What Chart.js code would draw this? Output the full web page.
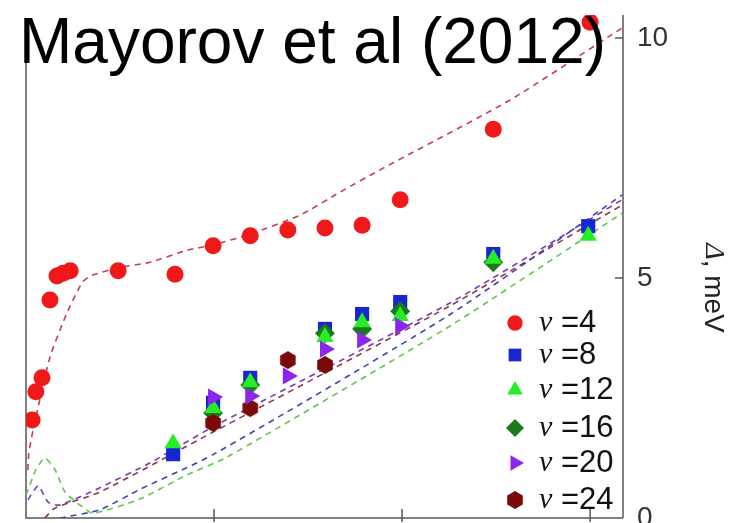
<!DOCTYPE html>
<html>
<head>
<meta charset="utf-8">
<script src="https://cdn.jsdelivr.net/npm/chart.js@4/dist/chart.umd.min.js"></script>
<style>
  html,body{margin:0;padding:0;background:#fff;}
  #wrap{width:738px;height:523px;}
</style>
</head>
<body>
<div id="wrap"><canvas id="chart" width="738" height="523"></canvas></div>
<script>
// measured points, B (T) vs gap (meV)
const NU4_B  = [0.13,0.21,0.34,0.51,0.66,0.79,0.94,1.96,3.17,3.98,4.77,5.57,6.36,7.15,7.96,9.94,12.0];
const NU4_D  = [2.04,2.63,2.92,4.54,5.04,5.10,5.15,5.15,5.08,5.67,5.88,6.00,6.04,6.10,6.63,8.10,10.33];
const NU8_B  = [3.13,3.98,4.77,6.36,7.15,7.96,9.94,11.96];
const NU8_D  = [1.33,2.40,2.92,3.94,4.25,4.50,5.50,6.08];
const NU12_B = [3.13,3.98,4.77,6.36,7.15,7.96,9.94,11.96];
const NU12_D = [1.56,2.29,2.83,3.77,4.08,4.21,5.40,5.88];
const NU16_B = [3.98,4.77,6.36,7.15,7.96,9.94];
const NU16_D = [2.19,2.77,3.85,3.94,4.31,5.33];
const NU20_B = [3.98,4.77,5.57,6.36,7.15,7.96];
const NU20_D = [2.52,2.54,2.96,3.52,3.71,4.00];
const NU24_B = [3.98,4.77,5.57,6.36];
const NU24_D = [1.98,2.29,3.29,3.19];

// theory curves (dashed)
const FIT4_B  = [0.04,0.06,0.15,0.51,0.87,1.19,1.36,1.94,2.64,3.43,3.98,4.72,5.83,6.68,7.60,10.30,12.68];
const FIT4_D  = [1.00,1.35,1.83,3.35,4.27,4.90,5.04,5.21,5.33,5.58,5.69,5.90,6.31,6.79,7.29,8.71,10.21];
const FIT8_B  = [0.72,1.57,2.43,3.98,9.02,12.68];
const FIT8_D  = [0.00,0.17,0.60,1.32,4.24,6.73];
const FIT12_B = [0.00,0.21,0.40,0.62,0.83,1.15,1.43,2.43,3.43,4.28,9.02,12.68];
const FIT12_D = [0.48,1.00,1.25,1.00,0.54,0.27,0.10,0.40,0.90,1.27,4.00,6.35];
const FIT20_B = [0.04,0.26,0.47,0.72,1.57,2.64,3.98,9.02,12.68];
const FIT20_D = [0.38,0.67,0.33,0.27,0.63,1.15,1.90,4.48,6.63];
const FIT24_B = [0.40,0.62,1.57,3.98,9.02,12.68];
const FIT24_D = [0.00,0.21,0.54,1.79,4.42,6.52];

const NU_LABELS = ["4","8","12","16","20","24"];
const X_TICKS = [4,8,12];
const Y_TICKS = [0,5,10];

const pts = (xs,ys) => xs.map((x,i)=>({x:x,y:ys[i]}));

function hexagon(r,color){
    const c = document.createElement("canvas");
    c.width = c.height = 2*r+2;
    const g = c.getContext("2d");
    g.fillStyle = color;
    g.beginPath();
    for(let i=0;i<6;i++){
        const a = Math.PI/3*i - Math.PI/2;
        g.lineTo(r+1+r*Math.cos(a), r+1+r*Math.sin(a));
    }
    g.closePath();
    g.fill();
    return c;
}
const hex = hexagon(9,"#7a0a0a");

// marker styles, same order as NU_LABELS
const markers = [
    {color:"#f01818", style:"circle",   radius:8.5, rotation:0},
    {color:"#1626d0", style:"rect",     radius:10,  rotation:0},
    {color:"#26ee26", style:"triangle", radius:10,  rotation:0},
    {color:"#1c7a1c", style:"rectRot",  radius:10,  rotation:0},
    {color:"#8a26ee", style:"triangle", radius:10,  rotation:90},
    {color:"#7a0a0a", style:hex,        radius:9,   rotation:0}
];

function scatterSet(i,xs,ys,order){
    const m = markers[i];
    return {
        label:"ν =" + NU_LABELS[i],
        data:pts(xs,ys),
        pointStyle:m.style,
        pointRadius:m.radius,
        pointRotation:m.rotation,
        backgroundColor:m.color,
        borderColor:m.color,
        borderWidth:0,
        showLine:false,
        order:order
    };
}

function fitSet(xs,ys,color){
    return {
        data:pts(xs,ys),
        showLine:true,
        pointRadius:0,
        borderColor:color,
        borderWidth:1.6,
        borderDash:[6,5],
        tension:0.2,
        fill:false,
        order:10
    };
}

const decor = {
    id:"decor",
    beforeDatasetsDraw(chart){
        const ctx = chart.ctx, a = chart.chartArea;
        const xs = chart.scales.x, ys = chart.scales.y;
        ctx.save();
        ctx.strokeStyle = "#808080";
        ctx.lineWidth = 2;
        ctx.beginPath();
        ctx.moveTo(a.left, 50); ctx.lineTo(a.left, a.bottom);
        ctx.lineTo(a.right, a.bottom);
        ctx.moveTo(a.right, a.top); ctx.lineTo(a.right, a.bottom);
        ctx.stroke();
        ctx.lineWidth = 1.5;
        ctx.strokeStyle = "#555";
        ctx.beginPath();
        X_TICKS.forEach(v=>{
            const px = xs.getPixelForValue(v);
            ctx.moveTo(px, a.bottom-9); ctx.lineTo(px, a.bottom+4);
        });
        Y_TICKS.slice(1).forEach(v=>{
            const py = ys.getPixelForValue(v);
            ctx.moveTo(a.right-8, py); ctx.lineTo(a.right, py);
        });
        ctx.stroke();
        ctx.restore();
    },
    afterDraw(chart){
        const ctx = chart.ctx;
        ctx.save();
        // legend
        const rows = [323,355,390,428,463,500];
        rows.forEach((y,i)=>{
            const m = markers[i];
            ctx.fillStyle = m.color;
            ctx.strokeStyle = m.color;
            Chart.helpers.drawPoint(ctx,{pointStyle:m.style, radius:m.radius*0.9, rotation:m.rotation, borderWidth:0},515,y);
            ctx.fillStyle = "#111";
            ctx.textBaseline = "middle";
            ctx.textAlign = "left";
            ctx.font = "italic 30px 'Liberation Serif'";
            ctx.fillText("ν",539,y);
            ctx.font = "31px 'Liberation Sans'";
            ctx.fillText("=" + NU_LABELS[i],561,y);
        });
        // title
        ctx.fillStyle = "#000";
        ctx.textBaseline = "alphabetic";
        ctx.font = "64px 'Liberation Sans'";
        ctx.fillText("Mayorov et al (2012)",19,63);
        // axis title, reads top to bottom
        ctx.translate(713,288);
        ctx.rotate(Math.PI/2);
        ctx.fillStyle = "#222";
        ctx.textBaseline = "middle";
        ctx.font = "italic 28px 'Liberation Serif'";
        const w1 = ctx.measureText("Δ").width;
        ctx.font = "28px 'Liberation Sans'";
        const w2 = ctx.measureText(", meV").width;
        let x0 = -(w1+w2)/2;
        ctx.font = "italic 28px 'Liberation Serif'";
        ctx.fillText("Δ",x0,0);
        ctx.font = "28px 'Liberation Sans'";
        ctx.fillText(", meV",x0+w1,0);
        ctx.restore();
    }
};

new Chart(document.getElementById("chart"),{
    type:"scatter",
    data:{
        datasets:[
            scatterSet(0,NU4_B,NU4_D,0),
            scatterSet(4,NU20_B,NU20_D,1),
            scatterSet(5,NU24_B,NU24_D,2),
            scatterSet(2,NU12_B,NU12_D,3),
            scatterSet(3,NU16_B,NU16_D,4),
            scatterSet(1,NU8_B,NU8_D,5),
            fitSet(FIT4_B,FIT4_D,"#c83c5a"),
            fitSet(FIT8_B,FIT8_D,"#3c46b4"),
            fitSet(FIT12_B,FIT12_D,"#5cc84a"),
            fitSet(FIT20_B,FIT20_D,"#7a3cb0"),
            fitSet(FIT24_B,FIT24_D,"#8a3a4a")
        ]
    },
    options:{
        responsive:false,
        animation:false,
        layout:{autoPadding:false, padding:{top:15,left:26,bottom:5,right:0}},
        plugins:{
            legend:{display:false},
            title:{display:false},
            tooltip:{enabled:false}
        },
        scales:{
            x:{
                type:"linear",
                display:false,
                min:0,
                max:12.7
            },
            y:{
                type:"linear",
                position:"right",
                min:0,
                max:10.48,
                grid:{display:false, drawTicks:false},
                border:{display:false},
                ticks:{
                    padding:14,
                    color:"#333",
                    font:{family:"'Liberation Sans'", size:28}
                },
                afterBuildTicks(scale){
                    scale.ticks = Y_TICKS.map(v=>({value:v}));
                },
                afterFit(scale){
                    scale.width = 115;
                    scale.paddingTop = 0;
                    scale.paddingBottom = 0;
                }
            }
        }
    },
    plugins:[decor]
});
</script>
</body>
</html>
